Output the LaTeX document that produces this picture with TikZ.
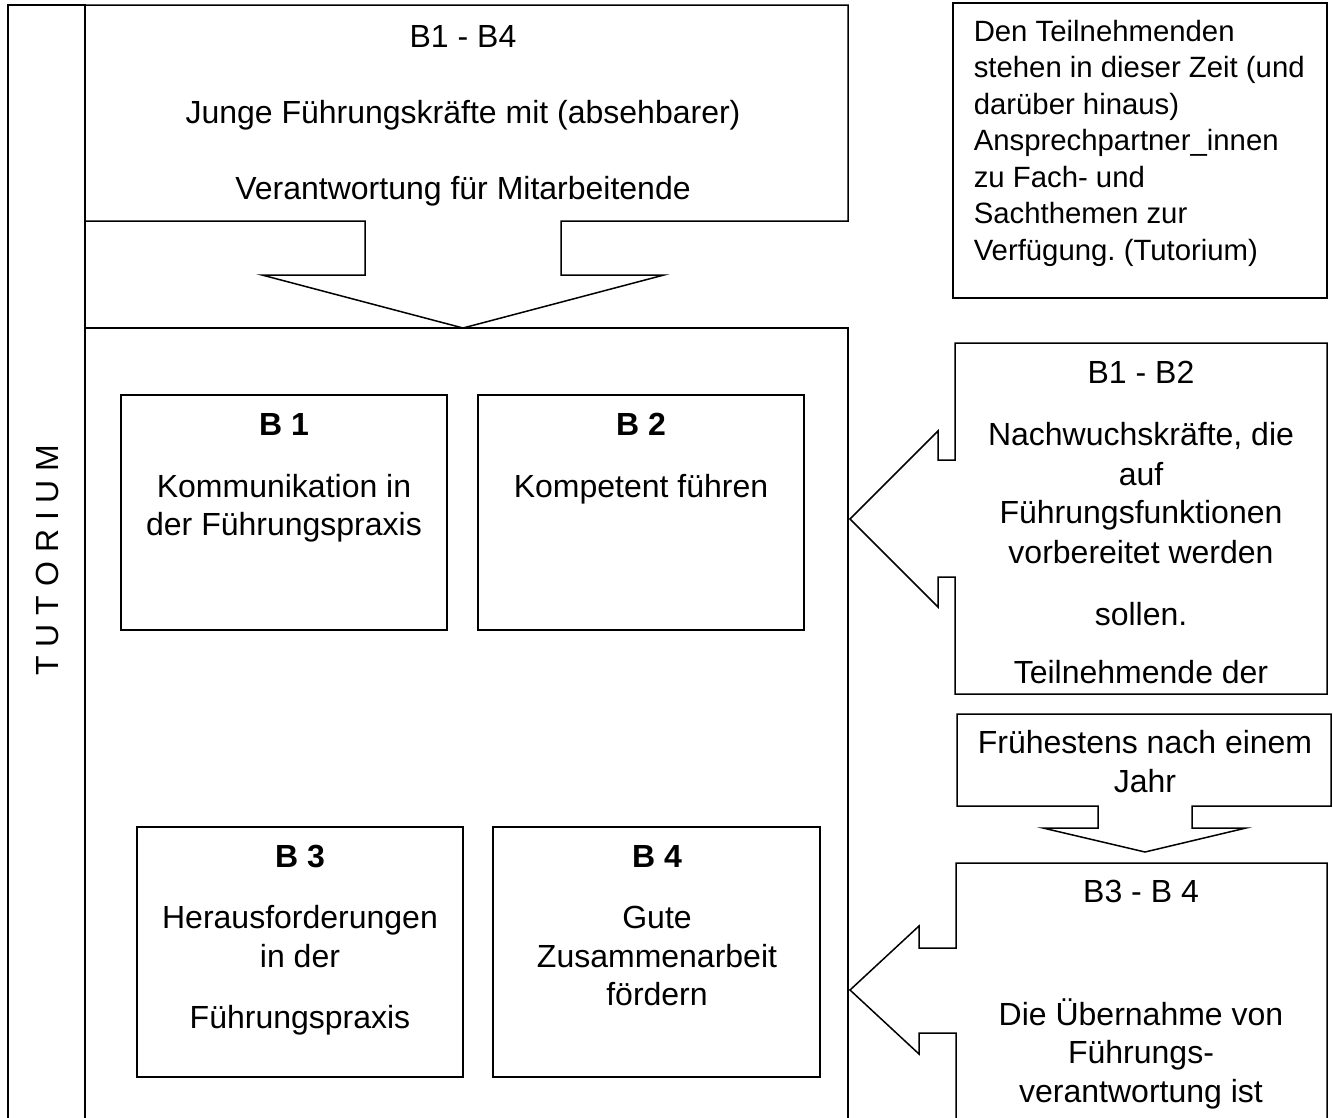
\documentclass[tikz,border=0pt]{standalone}
\usepackage{fontspec}
\setmainfont{Liberation Sans}
\frenchspacing
\begin{document}
\begin{tikzpicture}[x=1pt,y=-1pt,line width=1.5pt,line join=miter,
  txt/.style={font=\fontsize{32}{37}\selectfont,inner sep=0pt,anchor=base},
  txtl/.style={txt,font=\fontsize{29.33}{34}\selectfont,anchor=base west},
  hd/.style={txt,font=\fontsize{32}{37}\selectfont\bfseries},
  shp/.style={draw=black,fill=white}]
\useasboundingbox (0,0) rectangle (1333,1117);
\begin{scope}
\clip (0,0) rectangle (1333,1117);
% Tutorium strip
\draw (8,1200) -- (8,5) -- (85,5) -- (85,1200);
\node[txt,anchor=center,rotate=90] (tut) at (47,560) {T U T O R I U M};
% main box
\draw (85,328) -- (848,328) -- (848,1200);
% top callout
\draw (85,5) -- (848,5) -- (848,221) -- (561,221) -- (561,275) -- (664,275)
  -- (463,328) -- (262,275) -- (365,275) -- (365,221) -- (85,221);
\node[txt] (ta) at (463,47) {B1 - B4};
\node[txt] (tb) at (463,123) {Junge Führungskräfte mit (absehbarer)};
\node[txt] (tc) at (463,199) {Verantwortung für Mitarbeitende};
% top-right info box
\draw (953,3) rectangle (1327,298);
\node[txtl] (ia) at (973,41) {Den Teilnehmenden};
\node[txtl] (ib) at (973,77.5) {stehen in dieser Zeit (und};
\node[txtl] (ic) at (973,114) {darüber hinaus)};
\node[txtl] (id) at (973,150.5) {Ansprechpartner\_innen};
\node[txtl] (ie) at (973,187) {zu Fach- und};
\node[txtl] (if) at (973,223.5) {Sachthemen zur};
\node[txtl] (ig) at (973,260) {Verfügung. (Tutorium)};
% inner boxes
\draw (121,395) rectangle (447,630);
\draw (478,395) rectangle (804,630);
\draw (137,827) rectangle (463,1077);
\draw (493,827) rectangle (820,1077);
\node[hd] (b1) at (284,435) {B 1};
\node[txt] (b1a) at (284,497) {Kommunikation in};
\node[txt] (b1b) at (284,535) {der Führungspraxis};
\node[hd] (b2) at (641,435) {B 2};
\node[txt] (b2a) at (641,497) {Kompetent führen};
\node[hd] (b3) at (300,867) {B 3};
\node[txt] (b3a) at (300,928) {Herausforderungen};
\node[txt] (b3b) at (300,967) {in der};
\node[txt] (b3c) at (300,1028) {Führungspraxis};
\node[hd] (b4) at (657,867) {B 4};
\node[txt] (b4a) at (657,928) {Gute};
\node[txt] (b4b) at (657,967) {Zusammenarbeit};
\node[txt] (b4c) at (657,1005) {fördern};
% B1-B2 callout
\draw (955,343) -- (1327,343) -- (1327,694) -- (955,694) -- (955,577) -- (938,577)
  -- (938,607) -- (850,519) -- (938,431) -- (938,460) -- (955,460) -- cycle;
\node[txt] (ca) at (1141,383) {B1 - B2};
\node[txt] (cb) at (1141,445) {Nachwuchskräfte, die};
\node[txt] (cc) at (1141,485) {auf};
\node[txt] (cd) at (1141,523) {Führungsfunktionen};
\node[txt] (ce) at (1141,563) {vorbereitet werden};
\node[txt] (cf) at (1141,625) {sollen.};
\node[txt] (cg) at (1141,683) {Teilnehmende der};
% Fruehestens callout
\draw (957,714) -- (1331,714) -- (1331,806) -- (1192,806) -- (1192,828) -- (1246,828)
  -- (1145,852) -- (1043,828) -- (1098,828) -- (1098,806) -- (957,806) -- cycle;
\node[txt] (fa) at (1145,753) {Frühestens nach einem};
\node[txt] (fb) at (1145,792) {Jahr};
% B3-B4 callout
\draw (956,1250) -- (956,1033) -- (919,1033) -- (919,1054) -- (850,990) -- (919,926)
  -- (919,948) -- (956,948) -- (956,863) -- (1327,863) -- (1327,1250);
\node[txt] (da) at (1141,902) {B3 - B 4};
\node[txt] (db) at (1141,1025) {Die Übernahme von};
\node[txt] (dc) at (1141,1063) {Führungs-};
\begin{scope}
\clip (956,863) rectangle (1327,1108);
\node[txt] (dd) at (1141,1102) {verantwortung ist};
\end{scope}
\end{scope}
\end{tikzpicture}
\end{document}
